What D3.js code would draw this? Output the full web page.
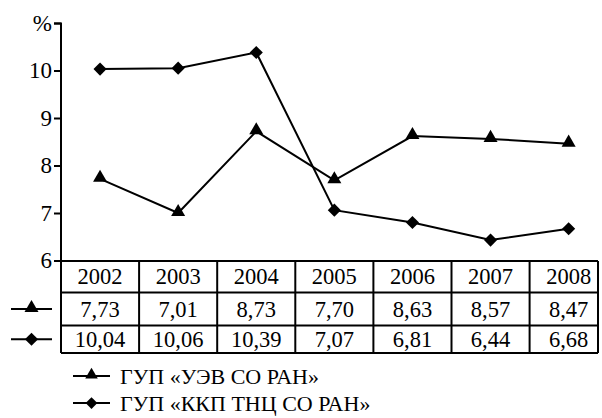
<!DOCTYPE html>
<html><head><meta charset="utf-8">
<script src="https://cdn.jsdelivr.net/npm/d3@7/dist/d3.min.js"></script>
</head><body style="margin:0"><svg id="c" width="602" height="418"></svg>
<script>
const years = ["2002","2003","2004","2005","2006","2007","2008"];
const seriesNames = ["ГУП «УЭВ СО РАН»","ГУП «ККП ТНЦ СО РАН»"];
const uevValues = [7.73,7.01,8.73,7.70,8.63,8.57,8.47];
const kkpValues = [10.04,10.06,10.39,7.07,6.81,6.44,6.68];
const yTicks = [6,7,8,9,10,11];
const yTickLabels = ["6","7","8","9","10","%"];

const FONT = "Times New Roman";
const svg = d3.select("#c");
const left = 61, plotTop = 23.5, plotBottom = 261, rightClip = 598;
const x = d3.scaleBand().domain(years).range([left, left + 7*78.1]).padding(0);
const y = d3.scaleLinear().domain([6,11]).range([plotBottom, plotTop]);
const fmt = v => v.toFixed(2).replace(".", ",");

// y axis (ticks + labels)
svg.append("path").attr("d",`M${left-7},${y(11)}H${left}V${plotBottom}`).attr("fill","none").attr("stroke","#000").attr("stroke-width",2);
yTicks.forEach((t,i)=>{
  svg.append("line").attr("x1",left-7).attr("x2",left).attr("y1",y(t)).attr("y2",y(t)).attr("stroke","#000").attr("stroke-width",2);
  svg.append("text").attr("x",left-9).attr("y",y(t)+7).attr("text-anchor","end")
    .attr("font-family",FONT).attr("font-size",23).text(yTickLabels[i]);
});

// lines
const series = [
  {vals: uevValues, shape: d3.symbolTriangle, size: 85, dy: -1},
  {vals: kkpValues, shape: d3.symbolDiamond2, size: 110, dy: 0}
];
const line = d3.line().x((d,i)=>x(years[i])+x.bandwidth()/2).y(d=>y(d));
series.forEach(s=>{
  svg.append("path").attr("d",line(s.vals)).attr("fill","none").attr("stroke","#000").attr("stroke-width",2);
  svg.selectAll(null).data(s.vals).enter().append("path")
    .attr("d",d3.symbol().type(s.shape).size(s.size))
    .attr("transform",(d,i)=>`translate(${x(years[i])+x.bandwidth()/2},${y(d)+s.dy})`)
    .attr("fill","#000");
});

// table
const rowsY = [261, 292.5, 325.5, 353];
const rightEdge = Math.min(x.range()[1], rightClip);
rowsY.forEach(ry=>svg.append("line").attr("x1", ry===261? left-7 : left).attr("x2",rightEdge).attr("y1",ry).attr("y2",ry).attr("stroke","#000").attr("stroke-width",2));
const xs = years.map(yr=>x(yr)).concat([rightEdge]);
xs.forEach(xx=>svg.append("line").attr("x1",xx).attr("x2",xx).attr("y1",261).attr("y2",353).attr("stroke","#000").attr("stroke-width",2));
const rowsText = [years, uevValues.map(fmt), kkpValues.map(fmt)];
rowsText.forEach((row,ri)=>{
  row.forEach((d,i)=>{
    svg.append("text")
      .attr("x",x(years[i])+x.bandwidth()/2)
      .attr("y",(rowsY[ri]+rowsY[ri+1])/2+7.5)
      .attr("text-anchor","middle")
      .attr("font-family",FONT).attr("font-size",22.5).text(d);
  });
});
// row legend keys
series.forEach((s,i)=>{
  const cy = (rowsY[i+1]+rowsY[i+2])/2;
  svg.append("line").attr("x1",11).attr("x2",52).attr("y1",cy).attr("y2",cy).attr("stroke","#000").attr("stroke-width",2);
  svg.append("path").attr("d",d3.symbol().type(s.shape).size(s.size)).attr("transform",`translate(31.5,${cy+s.dy})`).attr("fill","#000");
});

// legend
const legY = [376, 403];
series.forEach((s,i)=>{
  svg.append("line").attr("x1",73).attr("x2",110).attr("y1",legY[i]).attr("y2",legY[i]).attr("stroke","#000").attr("stroke-width",2);
  svg.append("path").attr("d",d3.symbol().type(s.shape).size(s.size*0.8)).attr("transform",`translate(91.5,${legY[i]+s.dy})`).attr("fill","#000");
  svg.append("text").attr("x",120).attr("y",legY[i]+7.5)
    .attr("font-family",FONT).attr("font-size",22).text(seriesNames[i]);
});
</script></body></html>
